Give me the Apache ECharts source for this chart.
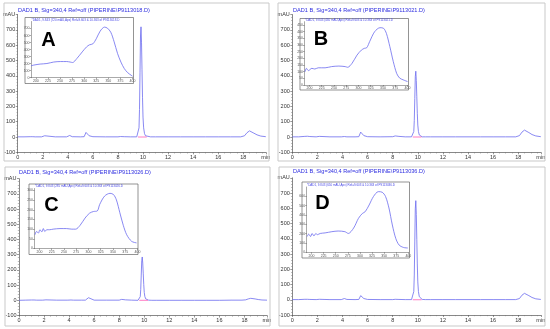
<!DOCTYPE html>
<html><head><meta charset="utf-8">
<script src="https://cdn.jsdelivr.net/npm/echarts@6/dist/echarts.min.js"></script>
<style>html,body{margin:0;padding:0;background:#fff}#c{width:550px;height:329px}</style>
</head><body><div id="c"></div>
<script>
// ---- chromatogram data (retention time, min) ----
const times = [0,0.5,1.0,1.2,1.4,1.9,2.05,2.15,2.3,3.0,3.9,4.05,4.15,4.35,5.0,5.3,5.45,5.55,5.7,6.0,7.0,8.0,8.2,8.35,8.5,9.0,9.5,9.62,9.68,9.72,9.76,9.8,9.84,9.88,9.92,9.96,10.0,10.05,10.12,10.2,10.35,10.6,11,12,13,14,15,16,17,17.8,18.1,18.3,18.5,18.65,18.85,19.1,19.4,19.8];
const signalA = [1,1,2,2,1,1,7,8,2,1,1,9,10,2,1,2,30,33,8,2,1,1,3,4,2,1,1,10,60,180,420,660,720,620,440,260,130,60,22,8,2,1,1,1,1,1,1,1,1,1,8,28,40,36,25,14,6,2];
const signalB = [1,1,4,5,3,1,3,4,1,1,1,2,3,1,1,2,32,35,9,2,1,2,7,8,4,1,1,6,36,108,251,394,430,370,263,155,78,36,13,5,1,1,1,1,1,1,1,1,1,1,9,32,45,41,29,16,7,2];
const signalC = [0,1,2,2,1,1,2,3,1,1,1,2,2,1,1,1,14,17,5,1,1,1,6,8,3,1,0,4,24,71,166,261,285,245,174,103,51,24,9,3,1,0,0,0,0,0,0,0,1,1,3,9,13,12,9,5,2,1];
const signalD = [1,1,3,3,2,1,2,3,1,1,1,6,8,2,1,2,27,30,8,2,1,1,3,4,2,1,1,9,54,162,379,596,650,560,397,235,117,54,20,7,2,1,1,1,1,1,1,1,1,1,8,30,42,38,27,15,6,2];
const integrationStart = 9.6, integrationEnd = 10.3;
const xTicks = [0,2,4,6,8,10,12,14,16,18];
const yTicks = [-100,0,100,200,300,400,500,600,700];

// ---- UV spectra at peak apex (wavelength nm, mAU) ----
const specWlA = [190,196,209,223,237,251,264,271,276,285,296,305,311,318,325,333,342,348,355,362,369,376,383,390,397,400];
const specA   = [169,180,194,202,223,230,230,223,216,274,367,439,468,482,554,662,720,706,648,511,346,223,130,72,36,22];
const specWlB = [191,194,198,205,211,218,232,245,260,273,278,287,297,306,312,317,323,333,344,351,357,364,371,378,384,391,400];
const specB   = [99,125,108,125,120,129,129,138,142,138,133,163,224,262,275,280,327,400,430,426,387,288,176,86,52,39,26];
const specWlC = [191,194,198,201,205,208,211,215,221,228,242,255,266,274,283,293,302,310,318,323,333,344,351,357,364,371,378,388,398];
const specC   = [71,88,80,97,86,103,88,97,97,100,103,103,100,100,120,157,182,191,194,228,271,285,279,251,185,120,71,37,29];
const specWlD = [191,194,198,201,205,209,212,218,228,242,255,269,276,287,297,305,311,319,328,338,346,353,360,367,374,381,390,399];
const specD   = [169,195,169,202,176,202,189,202,208,221,228,221,202,260,364,416,436,507,598,650,644,598,475,293,150,78,52,46];
const specXLabels = [200,225,250,275,300,325,350,375,400];

const titles = ['DAD1 B, Sig=340,4 Ref=off (PIPERINE\\P9113018.D)','DAD1 B, Sig=340,4 Ref=off (PIPERINE\\P9113021.D)','DAD1 B, Sig=340,4 Ref=off (PIPERINE\\P9113026.D)','DAD1 B, Sig=340,4 Ref=off (PIPERINE\\P9113036.D)'];
const insetTitles = ['*DAD1, 9.843 (720 mAU,Apx) Ref=9.603 & 10.363 of P9113018.D','*DAD1, 9.843 (430 mAU,Apx) Ref=9.603 & 10.363 of P9113021.D','*DAD1, 9.843 (285 mAU,Apx) Ref=9.603 & 10.363 of P9113026.D','*DAD1, 9.843 (650 mAU,Apx) Ref=9.603 & 10.363 of P9113036.D'];
const letters = ['A','B','C','D'];

const LINE = '#6b6bef';
const FONT = 'Liberation Sans, Arial, sans-serif';

const panels = [
  {sig:signalA, wl:specWlA, sp:specA, spMax:800, spStep:100,
   grid:{left:17.3,top:14.6,width:248.5,height:137.7},
   inset:{left:31,top:21.5,width:101.5,height:56.2},
   box:[25,17.5,108.5,66], title:[18,10], ititle:[31.5,19.8], letter:[48.5,40], frame:[4,3,265,158]},
  {sig:signalB, wl:specWlB, sp:specB, spMax:475, spStep:50,
   grid:{left:292.3,top:14.6,width:248.5,height:137.7},
   inset:{left:304.5,top:21.7,width:103,height:63.3},
   box:[300,18.5,108.5,71.5], title:[293,10], ititle:[305,20.3], letter:[321,39.5], frame:[278,3,267,158]},
  {sig:signalC, wl:specWlC, sp:specC, spMax:310, spStep:50,
   grid:{left:19,top:178.7,width:248,height:136.8},
   inset:{left:34.5,top:188.5,width:103,height:60},
   box:[29,184,109,70.5], title:[19,172.5], ititle:[35,186.5], letter:[51.5,205], frame:[5,167,265,159]},
  {sig:signalD, wl:specWlD, sp:specD, spMax:700, spStep:100,
   grid:{left:292.3,top:177.8,width:248.5,height:137.2},
   inset:{left:306.7,top:187,width:101.6,height:65.3},
   box:[302,182,107.5,76], title:[293,171.7], ititle:[307,184.8], letter:[322.5,203], frame:[279,167,266,159]}
];

const grids=[], xAxes=[], yAxes=[], series=[], graphic=[];
panels.forEach((p,i)=>{
  const gi = grids.length;
  grids.push(Object.assign({containLabel:false}, p.grid));
  xAxes.push({gridIndex:gi, type:'value', min:0, max:19.8, interval:2,
    axisLine:{onZero:false, lineStyle:{color:'#555', width:0.7}},
    axisTick:{show:true, length:2, lineStyle:{color:'#555', width:0.6}},
    minorTick:{show:true, splitNumber:4, length:1.2, lineStyle:{color:'#777', width:0.5}},
    splitLine:{show:false},
    axisLabel:{fontSize:5.5, color:'#333', margin:2, fontFamily:FONT, showMaxLabel:true,
      formatter:v=> v>19 ? 'min' : (xTicks.includes(v) ? String(v) : '')}});
  yAxes.push({gridIndex:gi, type:'value', min:-100, max:800, interval:100,
    axisLine:{show:true, lineStyle:{color:'#555', width:0.7}},
    axisTick:{show:true, length:2, lineStyle:{color:'#555', width:0.6}},
    minorTick:{show:true, splitNumber:5, length:1.2, lineStyle:{color:'#777', width:0.5}},
    splitLine:{show:false},
    axisLabel:{fontSize:5.5, color:'#333', margin:2.5, fontFamily:FONT,
      formatter:v=> v===800 ? 'mAU' : (yTicks.includes(v) ? String(v) : '')}});
  series.push({type:'line', xAxisIndex:gi, yAxisIndex:gi, data:times.map((t,k)=>[t,p.sig[k]]),
    showSymbol:false, symbol:'none', lineStyle:{color:LINE, width:0.8}, z:3});
  series.push({type:'line', xAxisIndex:gi, yAxisIndex:gi, data:[[integrationStart,0],[integrationEnd,0]],
    showSymbol:false, symbol:'none', lineStyle:{color:'#ff5ab4', width:0.8}, z:4});

  // inset
  const ii = grids.length;
  grids.push(Object.assign({containLabel:false}, p.inset));
  xAxes.push({gridIndex:ii, type:'value', min:190, max:400,
    axisLine:{onZero:false, lineStyle:{color:'#555', width:0.5}},
    axisTick:{show:true, length:1.5, customValues:specXLabels, lineStyle:{color:'#555', width:0.5}},
    minorTick:{show:false}, splitLine:{show:false},
    axisLabel:{fontSize:3.5, color:'#555', margin:1.5, fontFamily:FONT, customValues:specXLabels}});
  yAxes.push({gridIndex:ii, type:'value', min:0, max:p.spMax, interval:p.spStep,
    axisLine:{show:true, lineStyle:{color:'#555', width:0.5}},
    axisTick:{show:true, length:1.5, lineStyle:{color:'#555', width:0.5}},
    splitLine:{show:false},
    axisLabel:{fontSize:3.5, color:'#555', margin:1.5, fontFamily:FONT, showMaxLabel:false}});
  series.push({type:'line', xAxisIndex:ii, yAxisIndex:ii, data:p.wl.map((w,k)=>[w,p.sp[k]]),
    showSymbol:false, symbol:'none', smooth:0.3, lineStyle:{color:LINE, width:0.8}, z:3});

  graphic.push({type:'rect', shape:{x:p.frame[0],y:p.frame[1],width:p.frame[2],height:p.frame[3]},
    style:{fill:'transparent', stroke:'#c9c9c9', lineWidth:1}, z:1});
  graphic.push({type:'rect', shape:{x:p.box[0],y:p.box[1],width:p.box[2],height:p.box[3]},
    style:{fill:'transparent', stroke:'#666', lineWidth:0.7}, z:1});
  graphic.push({type:'text', x:p.title[0], y:p.title[1],
    style:{text:titles[i], fontSize:5.6, fill:'#2d2de0', fontFamily:FONT, verticalAlign:'middle', align:'left'}, z:5});
  graphic.push({type:'text', x:p.ititle[0], y:p.ititle[1],
    style:{text:insetTitles[i], fontSize:3, fill:'#4a4ae6', fontFamily:FONT, verticalAlign:'middle', align:'left'}, z:5});
  graphic.push({type:'text', x:p.letter[0], y:p.letter[1],
    style:{text:letters[i], fontSize:20, fontWeight:'bold', fill:'#000', fontFamily:FONT, verticalAlign:'middle', align:'center'}, z:10});
});

const chart = echarts.init(document.getElementById('c'), null, {renderer:'canvas'});
chart.setOption({animation:false, backgroundColor:'#fff', grid:grids, xAxis:xAxes, yAxis:yAxes, series:series, graphic:graphic});
</script></body></html>
